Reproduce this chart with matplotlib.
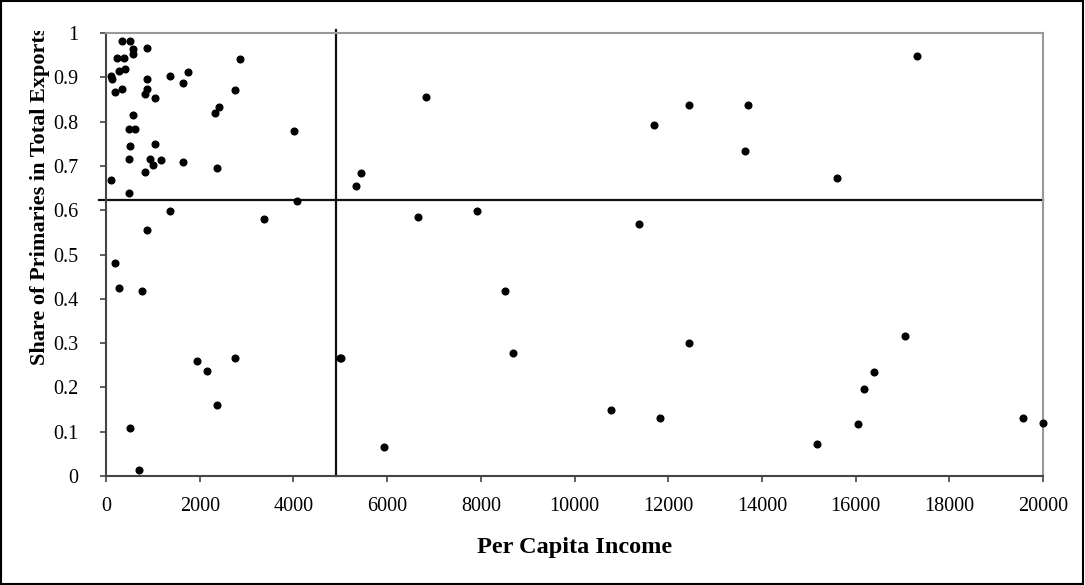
import matplotlib.pyplot as plt
from matplotlib.patches import Rectangle
from matplotlib.transforms import Bbox, TransformedBbox

plt.rcParams['font.family'] = ['Liberation Serif', 'DejaVu Serif']

# per capita income and share of primaries in total exports
income = [341, 512, 867, 583, 583, 234, 377, 2857, 270, 412, 1741, 1357, 100, 135,
          867, 1635, 341, 867, 199, 830, 2751, 1045, 2402, 2331, 583, 481, 625,
          4009, 519, 1045, 481, 936, 1180, 1010, 1635, 830, 2367, 100, 481, 4080,
          1357, 3382, 867, 199, 277, 758, 1947, 2154, 2750, 2367, 519, 694,
          4989, 6834, 5437, 5338, 6658, 7924, 11371, 11691, 12452, 13695, 13638,
          5017, 5927, 8507, 8684, 10774, 11827, 12452, 17306, 15593, 17058,
          16397, 16183, 16049, 15181, 19574, 19993]
share = [0.981, 0.981, 0.966, 0.963, 0.952, 0.944, 0.944, 0.941, 0.915, 0.919, 0.912,
         0.904, 0.904, 0.896, 0.896, 0.886, 0.874, 0.874, 0.867, 0.863, 0.871, 0.853,
         0.834, 0.819, 0.816, 0.783, 0.783, 0.779, 0.746, 0.749, 0.716, 0.716, 0.713,
         0.701, 0.709, 0.687, 0.695, 0.668, 0.639, 0.621, 0.599, 0.580, 0.555, 0.481,
         0.425, 0.418, 0.260, 0.238, 0.267, 0.161, 0.109, 0.014,
         0.267, 0.856, 0.683, 0.654, 0.584, 0.599, 0.569, 0.793, 0.837, 0.837, 0.734,
         0.267, 0.065, 0.418, 0.278, 0.149, 0.131, 0.300, 0.948, 0.672, 0.315,
         0.234, 0.197, 0.117, 0.073, 0.131, 0.120]

income_cut = 4900
share_cut = 0.623

fig = plt.figure(figsize=(10.85, 5.85), dpi=100)
ax = fig.add_axes([0.0977, 0.1863, 0.8636, 0.7573])

ax.plot(income, share, 'o', color='black', markersize=4.8, linestyle='none', clip_on=False, zorder=3)

# quadrant lines
ax.plot([-150, 20000], [share_cut, share_cut], color='#111111', lw=1.6, clip_on=False, zorder=2)
ax.plot([income_cut, income_cut], [0, 1.007], color='#111111', lw=1.6, clip_on=False, zorder=2)

ax.set_xlim(0, 20000)
ax.set_ylim(0, 1)
ax.set_xticks(range(0, 20001, 2000))
ax.set_yticks([0, 0.1, 0.2, 0.3, 0.4, 0.5, 0.6, 0.7, 0.8, 0.9, 1])
ax.set_yticklabels(['0', '0.1', '0.2', '0.3', '0.4', '0.5', '0.6', '0.7', '0.8', '0.9', '1'])
ax.tick_params(axis='both', direction='out', length=4, width=1.2, colors='#444444',
               labelcolor='black', labelsize=14.5)
ax.tick_params(axis='y', pad=16)
ax.tick_params(axis='x', pad=11)

for side in ['left', 'bottom']:
    ax.spines[side].set_color('#444444')
    ax.spines[side].set_linewidth(1.5)
for side in ['top', 'right']:
    ax.spines[side].set_color('#999999')
    ax.spines[side].set_linewidth(1.5)

ax.set_xlabel('Per Capita Income', fontsize=17.5, fontweight='bold', labelpad=15)

# y label, clipped at the top like the original
yl = fig.text(40 / 1085, 220 / 585, 'Share of Primaries in Total Exports', rotation=90,
              ha='center', va='bottom', fontsize=16, fontweight='bold')
yl.set_clip_on(True)
yl.set_clip_box(TransformedBbox(Bbox([[0, 0], [1, 554 / 585]]), fig.transFigure))

# outer frame
fig.patches.append(Rectangle((0.001, 0.002), 0.997, 0.996, transform=fig.transFigure,
                             fill=False, edgecolor='black', lw=1.5))

fig.savefig('out.png', dpi=100)
